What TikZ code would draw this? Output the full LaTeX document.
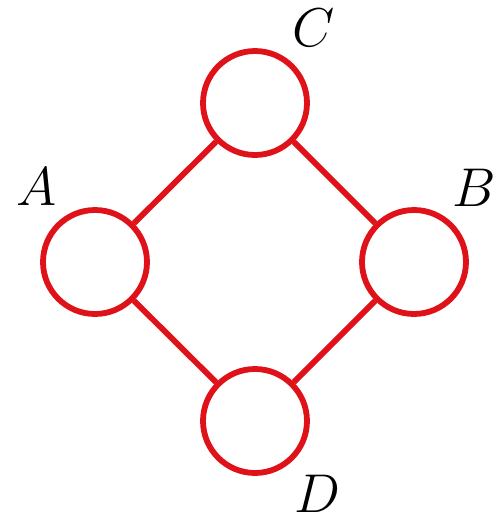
\documentclass[tikz,border=0pt]{standalone}
\usepackage{tikz}
\usetikzlibrary{positioning}
\definecolor{nodered}{RGB}{222,18,24}

\begin{document}
\begin{tikzpicture}[x=0.02cm, y=-0.02cm,
  vertex/.style={draw=nodered, circle, line width=3.3pt, minimum size=2.08cm, inner sep=0pt},
  edge/.style={draw=nodered, line width=3.3pt},
  lbl/.style={font=\Huge, scale=1.25, inner sep=0pt}
]
\useasboundingbox (0,0) rectangle (499,518);
\node[vertex] (A) at (95,262) {};
\node[vertex] (C) at (255,103) {};
\node[vertex] (B) at (414,262) {};
\node[vertex] (D) at (255,421) {};
\node[lbl] (lA) at (37,187) {$A$};
\node[lbl] (lC) at (314,28) {$C$};
\node[lbl] (lB) at (474,188) {$B$};
\node[lbl] (lD) at (317,494) {$D$};
\draw[edge] (A) -- (C);
\draw[edge] (C) -- (B);
\draw[edge] (B) -- (D);
\draw[edge] (D) -- (A);
\end{tikzpicture}
\end{document}
